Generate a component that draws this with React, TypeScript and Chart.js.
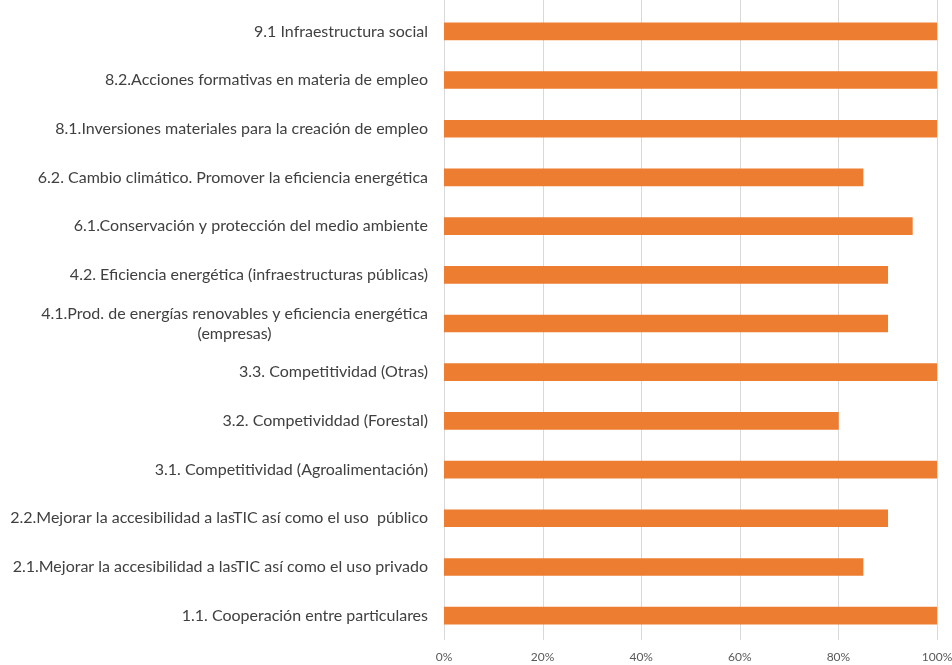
import React, { useEffect, useRef } from "react";
import { Chart, registerables } from "chart.js";

Chart.register(...registerables);

const categories: (string | string[])[] = [
  "9.1 Infraestructura social",
  "8.2.Acciones formativas en materia de empleo",
  "8.1.Inversiones materiales para la creación de empleo",
  "6.2. Cambio climático. Promover la eficiencia energética",
  "6.1.Conservación y protección del medio ambiente",
  "4.2. Eficiencia energética (infraestructuras públicas)",
  ["4.1.Prod. de energías renovables y eficiencia energética", "(empresas)"],
  "3.3. Competitividad (Otras)",
  "3.2. Competividdad (Forestal)",
  "3.1. Competitividad (Agroalimentación)",
  "2.2.Mejorar la accesibilidad a lasTIC así como el uso  público",
  "2.1.Mejorar la accesibilidad a lasTIC así como el uso privado",
  "1.1. Cooperación entre particulares",
];

const values = [100, 100, 100, 85, 95, 90, 90, 100, 80, 100, 90, 85, 100];

const xTickValues = [0, 20, 40, 60, 80, 100];

const LABEL_FONT = '16px "Lato", "Liberation Sans", sans-serif';

const customPlugin = {
  id: "customDraw",
  beforeDatasetsDraw(chart: any) {
    const ctx = chart.ctx;
    const xs = chart.scales.x;
    const area = chart.chartArea;
    ctx.save();
    ctx.strokeStyle = "#d9d9d9";
    ctx.lineWidth = 1;
    xTickValues.forEach((v) => {
      const x = Math.round(xs.getPixelForValue(v)) + 0.5;
      ctx.beginPath();
      ctx.moveTo(x, 0);
      ctx.lineTo(x, area.bottom);
      ctx.stroke();
    });
    ctx.restore();
  },
  afterDraw(chart: any) {
    const ctx = chart.ctx;
    const ys = chart.scales.y;
    const right = chart.chartArea.left - 16;
    const lineHeight = 20;
    ctx.save();
    ctx.font = LABEL_FONT;
    ctx.fillStyle = "#404040";
    ctx.textBaseline = "middle";
    categories.forEach((label, i) => {
      const lines = Array.isArray(label) ? label : [label];
      const y = ys.getPixelForValue(i);
      const widest = Math.max(...lines.map((l) => ctx.measureText(l).width));
      const cx = right - widest / 2;
      ctx.textAlign = "center";
      lines.forEach((line, j) => {
        const ly = y + (j - (lines.length - 1) / 2) * lineHeight;
        ctx.fillText(line, cx, ly);
      });
    });
    ctx.restore();
  },
};

export default function App() {
  const canvasRef = useRef<HTMLCanvasElement | null>(null);

  useEffect(() => {
    if (!canvasRef.current) return;
    const chart = new Chart(canvasRef.current, {
      type: "bar",
      data: {
        labels: categories as any,
        datasets: [
          {
            data: values,
            backgroundColor: "#ED7D31",
            borderWidth: 0,
            barThickness: 17,
          },
        ],
      },
      options: {
        indexAxis: "y",
        animation: false,
        responsive: true,
        maintainAspectRatio: false,
        layout: { padding: { top: 7, right: 15, bottom: 0, left: 0 } },
        plugins: {
          legend: { display: false },
          tooltip: { enabled: false },
        },
        scales: {
          x: {
            min: 0,
            max: 100,
            grid: { display: false, drawTicks: false },
            border: { display: false },
            ticks: {
              stepSize: 20,
              padding: 10,
              color: "#595959",
              font: { family: '"Lato", "Liberation Sans", sans-serif', size: 12 },
              callback: (v: any) => v + "%",
            },
            afterFit: (s: any) => {
              s.paddingRight = 0;
              s.paddingLeft = 0;
              s.height = 25;
            },
          },
          y: {
            grid: { display: false },
            border: { display: false },
            ticks: { display: false },
            afterFit: (s: any) => {
              s.width = 444;
            },
          },
        },
      },
      plugins: [customPlugin],
    });
    return () => chart.destroy();
  }, []);

  return (
    <div style={{ position: "fixed", left: 0, top: 0, width: 952, height: 665, background: "#fff" }}>
      <canvas ref={canvasRef} />
    </div>
  );
}
